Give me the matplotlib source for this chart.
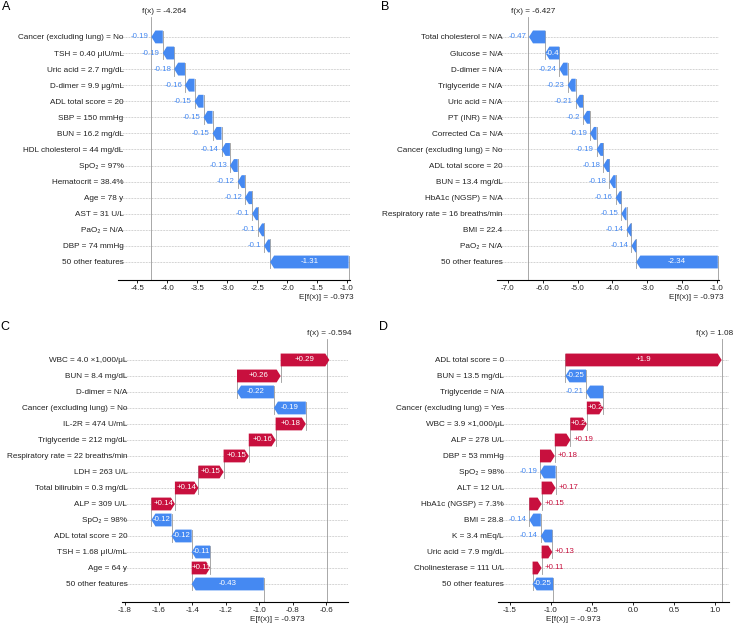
import numpy as np
import matplotlib
matplotlib.use('Agg')
import matplotlib.pyplot as plt

plt.rcParams['font.family'] = ['Liberation Sans', 'DejaVu Sans']
plt.rcParams['axes.unicode_minus'] = False

BLUE = '#4589f2'
RED = '#c8103e'
LINE = '#9a9a9a'

base = -0.973

# panel A
a_names = ['Cancer (excluding lung) = No', 'TSH = 0.40 μIU/mL', 'Uric acid = 2.7 mg/dL',
           'D-dimer = 9.9 μg/mL', 'ADL total score = 20', 'SBP = 150 mmHg', 'BUN = 16.2 mg/dL',
           'HDL cholesterol = 44 mg/dL', 'SpO₂ = 97%', 'Hematocrit = 38.4%', 'Age = 78 y',
           'AST = 31 U/L', 'PaO₂ = N/A', 'DBP = 74 mmHg', '50 other features']
a_vals = [-0.19, -0.19, -0.18, -0.16, -0.15, -0.15, -0.15, -0.14, -0.13, -0.12, -0.12,
          -0.1, -0.1, -0.1, -1.31]
a_out = [True] * 14 + [False]
a_fx = -4.264
a_ticks = [-4.5, -4.0, -3.5, -3.0, -2.5, -2.0, -1.5, -1.0]
a_ticklabels = ['-4.5', '-4.0', '-3.5', '-3.0', '-2.5', '-2.0', '-1.5', '-1.0']

# panel B
b_names = ['Total cholesterol = N/A', 'Glucose = N/A', 'D-dimer = N/A', 'Triglyceride = N/A',
           'Uric acid = N/A', 'PT (INR) = N/A', 'Corrected Ca = N/A', 'Cancer (excluding lung) = No',
           'ADL total score = 20', 'BUN = 13.4 mg/dL', 'HbA1c (NGSP) = N/A',
           'Respiratory rate = 16 breaths/min', 'BMI = 22.4', 'PaO₂ = N/A', '50 other features']
b_vals = [-0.47, -0.4, -0.24, -0.23, -0.21, -0.2, -0.19, -0.19, -0.18, -0.18, -0.16,
          -0.15, -0.14, -0.14, -2.34]
b_out = [True, False] + [True] * 12 + [False]
b_fx = -6.427
b_ticks = [-7.0, -6.0, -5.0, -4.0, -3.0, -2.0, -1.0]
b_ticklabels = ['-7.0', '-6.0', '-5.0', '-4.0', '-3.0', '-5.0', '-1.0']

# panel C
c_names = ['WBC = 4.0 ×1,000/μL', 'BUN = 8.4 mg/dL', 'D-dimer = N/A', 'Cancer (excluding lung) = No',
           'IL-2R = 474 U/mL', 'Triglyceride = 212 mg/dL', 'Respiratory rate = 22 breaths/min',
           'LDH = 263 U/L', 'Total bilirubin = 0.3 mg/dL', 'ALP = 309 U/L', 'SpO₂ = 98%',
           'ADL total score = 20', 'TSH = 1.68 μIU/mL', 'Age = 64 y', '50 other features']
c_vals = [0.29, 0.26, -0.22, -0.19, 0.18, 0.16, 0.15, 0.15, 0.14, 0.14, -0.12, -0.12,
          -0.11, 0.11, -0.43]
c_out = [False] * 15
c_fx = -0.594
c_ticks = [-1.8, -1.6, -1.4, -1.2, -1.0, -0.8, -0.6]
c_ticklabels = ['-1.8', '-1.6', '-1.4', '-1.2', '-1.0', '-0.8', '-0.6']

# panel D
d_names = ['ADL total score = 0', 'BUN = 13.5 mg/dL', 'Triglyceride = N/A',
           'Cancer (excluding lung) = Yes', 'WBC = 3.9 ×1,000/μL', 'ALP = 278 U/L',
           'DBP = 53 mmHg', 'SpO₂ = 98%', 'ALT = 12 U/L', 'HbA1c (NGSP) = 7.3%', 'BMI = 28.8',
           'K = 3.4 mEq/L', 'Uric acid = 7.9 mg/dL', 'Cholinesterase = 111 U/L', '50 other features']
d_vals = [1.9, -0.25, -0.21, 0.2, 0.2, 0.19, 0.18, -0.19, 0.17, 0.15, -0.14, -0.14,
          0.13, 0.11, -0.25]
d_out = [False, False, True, False, False, True, True, True, True, True, True, True,
         True, True, False]
d_fx = 1.08
d_ticks = [-1.5, -1.0, -0.5, 0.0, 0.5, 1.0]
d_ticklabels = ['-1.5', '-1.0', '-0.5', '0.0', '0.5', '1.0']


def fmt(v):
    s = '%+.2f' % v
    s = s.rstrip('0').rstrip('.')
    return s


def waterfall(fig, rect, names, vals, out, fx, ticks, ticklabels, xlim, ylim,
              fx_dx, ef_dx, letter, letter_xy):
    ax = fig.add_axes(rect)
    n = len(names)
    ax.set_xlim(*xlim)
    ax.set_ylim(*ylim)
    w_px = rect[2] * fig.get_figwidth() * fig.dpi
    hl = 4.0 / (w_px / (xlim[1] - xlim[0]))
    bw = 0.8

    for i in range(n):
        ax.axhline(n - 1 - i, color='#a8a8a8', lw=0.5, dashes=(1, 1.2), zorder=-2)
    ax.axvline(fx, color=LINE, lw=0.6, zorder=-1)

    cur = base
    for i in range(n - 1, -1, -1):
        y = n - 1 - i
        v = vals[i]
        left = cur
        cur = cur + v
        c = RED if v > 0 else BLUE
        dist = abs(v)
        sgn = 1 if v > 0 else -1
        ax.arrow(left, y, sgn * max(dist - hl, 1e-6), 0, width=bw, head_width=bw,
                 head_length=min(dist, hl), color=c, lw=0, zorder=2)
        # connector down to the row below
        ax.plot([left, left], [y - 1 - 0.4, y + 0.4], color=LINE, lw=0.6, zorder=-1)
        txt = fmt(v)
        if out[i]:
            ax.annotate(txt, (cur, y), xytext=(sgn * 2, 0), textcoords='offset points',
                        ha='left' if v > 0 else 'right', va='center', color=c,
                        fontsize=5.7, zorder=3)
        else:
            ax.text(left + v / 2, y, txt, ha='center', va='center', color='white',
                    fontsize=5.7, zorder=3)

    ax.set_yticks(range(n))
    ax.set_yticklabels(names[::-1], fontsize=5.9, color='#222222')
    ax.tick_params(axis='y', length=0, pad=-4)
    ax.set_xticks(ticks)
    ax.set_xticklabels(ticklabels, fontsize=5.8, color='#222222')
    ax.tick_params(axis='x', length=2.2, width=0.6, pad=1.5, direction='out')
    for s in ['top', 'right', 'left']:
        ax.spines[s].set_visible(False)
    ax.spines['bottom'].set_linewidth(0.8)

    fx_txt = 'f(x) = ' + ('%.3f' % fx).rstrip('0')
    ax.annotate(fx_txt, (fx, 1), xycoords=('data', 'axes fraction'), xytext=(fx_dx, 3.6),
                textcoords='offset points', ha='center', va='center', fontsize=5.9,
                color='#222222', annotation_clip=False)
    ax.annotate('E[f(x)] = %.3f' % base, (base, 0), xycoords=('data', 'axes fraction'),
                xytext=(ef_dx, -12.8), textcoords='offset points', ha='center', va='center',
                fontsize=5.9, color='#222222', annotation_clip=False)
    fig.text(letter_xy[0] / 733, 1 - letter_xy[1] / 625, letter, fontsize=9,
             ha='center', va='center')
    return ax


fig = plt.figure(figsize=(7.33, 6.25), dpi=100)

top_rect_y = (1 - 280 / 625, 263 / 625)
bot_rect_y = (1 - 602 / 625, 263 / 625)

waterfall(fig, [118 / 733, top_rect_y[0], 232 / 733, top_rect_y[1]], a_names, a_vals, a_out,
          a_fx, a_ticks, a_ticklabels, (-4.82, -0.95), (-1.12, 15.24), 9.2, -16.3, 'A', (6, 7))
waterfall(fig, [496.7 / 733, top_rect_y[0], 222.6 / 733, top_rect_y[1]], b_names, b_vals, b_out,
          b_fx, b_ticks, b_ticklabels, (-7.32, -0.93), (-1.12, 15.24), 4.2, -15.8, 'B', (385, 7))
waterfall(fig, [121.7 / 733, bot_rect_y[0], 226.6 / 733, bot_rect_y[1]], c_names, c_vals, c_out,
          c_fx, c_ticks, c_ticklabels, (-1.82, -0.47), (-1.125, 15.31), 1.5, 10.0, 'C', (5, 327))
waterfall(fig, [498.3 / 733, bot_rect_y[0], 231 / 733, bot_rect_y[1]], d_names, d_vals, d_out,
          d_fx, d_ticks, d_ticklabels, (-1.64, 1.17), (-1.125, 15.31), -5.5, 14.4, 'D', (384, 327))

fig.savefig('out.png', dpi=100)
